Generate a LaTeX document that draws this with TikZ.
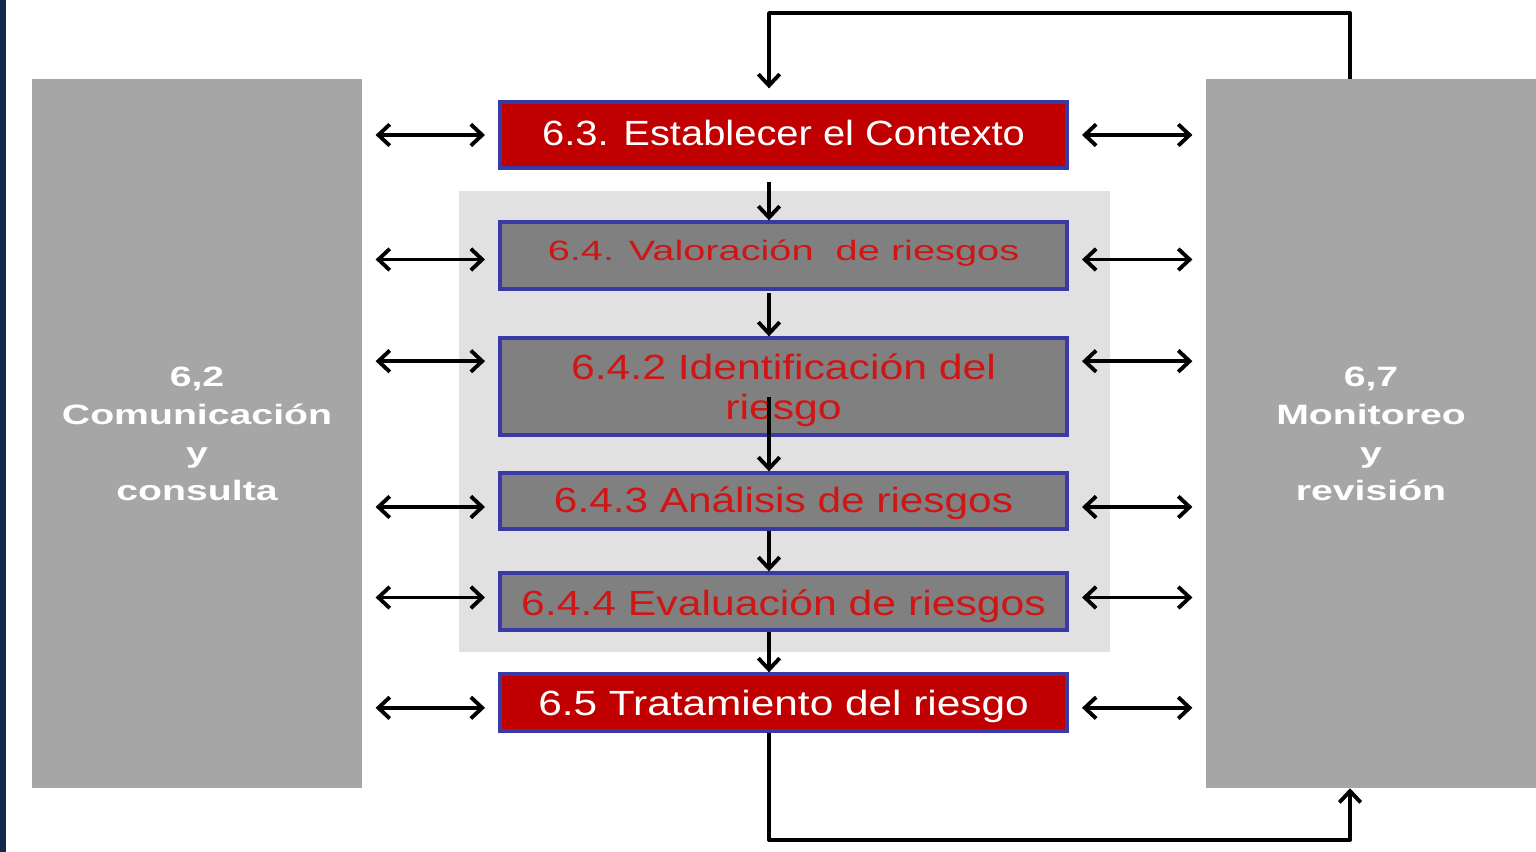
\documentclass[tikz,border=0pt]{standalone}
\usepackage{fontspec}
\setmainfont{Liberation Sans}
\usetikzlibrary{arrows.meta,calc}
\definecolor{boxred}{HTML}{C00000}
\definecolor{boxgray}{HTML}{808080}
\definecolor{txtred}{HTML}{D01515}
\definecolor{boxblue}{HTML}{3A3AA6}
\definecolor{sidegray}{HTML}{A6A6A6}
\definecolor{panelgray}{HTML}{E1E1E1}
\definecolor{navy}{HTML}{13294B}
\newcommand{\shiftup}[2]{\raisebox{#1}[\height][\depth]{#2}}
\tikzset{
  procbox/.style={draw=boxblue, line width=2.5pt, inner sep=0pt, align=center, minimum width=425.25pt},
  redbox/.style={procbox, fill=boxred, text=white},
  graybox/.style={procbox, fill=boxgray, text=txtred},
  sidebox/.style={fill=sidegray, inner sep=0pt, text=white, minimum width=247.5pt, minimum height=531.75pt, font=\bfseries\fontsize{21}{28.5}\selectfont},
  tip/.tip={Straight Barb[length=8.5pt,width=16pt,line width=2.9pt]},
  arr/.style={line width=2.9pt, line join=round, -tip},
  darr/.style={line width=2.9pt, tip-tip, shorten <=10pt, shorten >=10pt},
  bigtxt/.style={font=\fontsize{26.25}{30}\selectfont},
}
\begin{document}
\begin{tikzpicture}[x=0.75pt,y=-0.75pt]
\useasboundingbox (0,0) rectangle (1536,852);
\fill[white] (0,0) rectangle (1536,852);
\fill[navy] (0,0) rectangle (6,852);
\fill[panelgray] (459,191) rectangle (1110,652);

\node[sidebox] (left) at (197,433.5)
  {\shiftup{-2pt}{\scalebox{1.4}[1]{\begin{tabular}{@{}c@{}}6,2\\Comunicación\\y\\consulta\end{tabular}}}};
\node[sidebox] (right) at (1371,433.5)
  {\shiftup{-2pt}{\scalebox{1.4}[1]{\begin{tabular}{@{}c@{}}6,7\\Monitoreo\\y\\revisión\end{tabular}}}};

\node[redbox, bigtxt, minimum height=49.5pt] (n63) at (783.5,135)
  {\shiftup{1.5pt}{\scalebox{1.14}[1]{6.3. Establecer el Contexto}}};
\node[graybox, font=\fontsize{21}{24}\selectfont, minimum height=50.25pt] (n64) at (783.5,255.5)
  {\shiftup{1.5pt}{\scalebox{1.42}[1]{6.4. Valoración \ de riesgos}}};
\node[graybox, bigtxt, minimum height=72.75pt] (n642) at (783.5,386.5)
  {\shiftup{-3.5pt}{\scalebox{1.22}[1]{\begin{tabular}{@{}c@{}}6.4.2 Identificación del\\riesgo\end{tabular}}}};
\node[graybox, bigtxt, minimum height=42pt] (n643) at (783.5,501)
  {\shiftup{-2pt}{\scalebox{1.21}[1]{6.4.3 Análisis de riesgos}}};
\node[graybox, bigtxt, minimum height=42.75pt] (n644) at (783.5,601.5)
  {\shiftup{-3.5pt}{\scalebox{1.22}[1]{6.4.4 Evaluación de riesgos}}};
\node[redbox, bigtxt, minimum height=42.75pt] (n65) at (783.5,702.5)
  {\shiftup{-3pt}{\scalebox{1.21}[1]{6.5 Tratamiento del riesgo}}};

\coordinate (ax) at (769,0);
\coordinate (top) at (769,13);
\coordinate (bot) at (769,840);
\coordinate (rx) at (1350,0);

% vertical flow
\draw[arr, shorten <=9pt] (n63.south -| ax) -- (n64.north -| ax);
\draw[arr, shorten <=2pt] (n64.south -| ax) -- (n642.north -| ax);
\draw[arr] ([yshift=30pt]n642.south -| ax) -- (n643.north -| ax);
\draw[arr] (n643.south -| ax) -- (n644.north -| ax);
\draw[arr] (n644.south -| ax) -- (n65.north -| ax);

% loops
\draw[arr, shorten >=9pt] (right.north -| rx) |- (top) -- (n63.north -| ax);
\draw[arr] (n65.south -| ax) -- (bot) -| (right.south -| rx);

% double arrows
\foreach \n/\s in {n63/0pt, n64/-3pt, n642/19pt, n643/-4.5pt, n644/3pt, n65/-4pt}{
  \draw[darr] ([yshift=\s]left.east |- \n.west) -- ([yshift=\s]\n.west);
  \draw[darr] ([yshift=\s]\n.east) -- ([yshift=\s]right.west |- \n.east);
}
\end{tikzpicture}
\end{document}
